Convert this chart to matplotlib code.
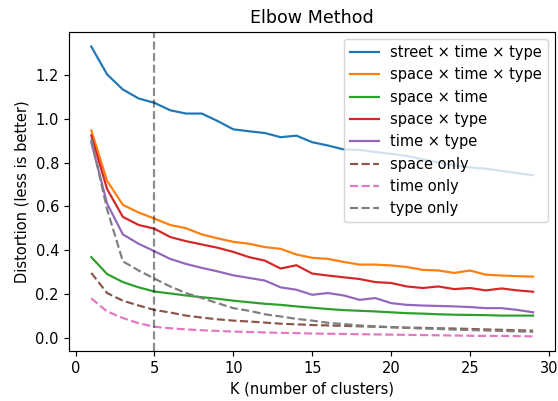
import matplotlib
matplotlib.use("Agg")
import matplotlib.pyplot as plt

K = list(range(1, 30))

street_time_type = [1.33, 1.203, 1.134, 1.093, 1.073, 1.039, 1.024, 1.024, 0.99, 0.952,
                    0.943, 0.935, 0.916, 0.923, 0.893, 0.878, 0.86, 0.858, 0.848, 0.84,
                    0.83, 0.815, 0.80, 0.787, 0.778, 0.772, 0.762, 0.752, 0.742]
space_time_type = [0.947, 0.717, 0.607, 0.572, 0.544, 0.515, 0.50, 0.472, 0.454, 0.438,
                   0.429, 0.414, 0.406, 0.38, 0.365, 0.36, 0.346, 0.334, 0.334, 0.33,
                   0.323, 0.31, 0.307, 0.296, 0.307, 0.288, 0.284, 0.281, 0.279]
space_time = [0.368, 0.291, 0.254, 0.23, 0.211, 0.202, 0.193, 0.185, 0.178, 0.169,
              0.162, 0.155, 0.15, 0.143, 0.137, 0.131, 0.126, 0.123, 0.12, 0.116,
              0.112, 0.11, 0.107, 0.105, 0.104, 0.103, 0.101, 0.101, 0.101]
space_type = [0.924, 0.679, 0.552, 0.515, 0.498, 0.46, 0.441, 0.426, 0.411, 0.392,
              0.368, 0.352, 0.316, 0.331, 0.293, 0.284, 0.276, 0.268, 0.254, 0.25,
              0.234, 0.227, 0.234, 0.222, 0.227, 0.216, 0.225, 0.216, 0.21]
time_type = [0.893, 0.613, 0.472, 0.429, 0.395, 0.36, 0.337, 0.319, 0.303, 0.285,
             0.273, 0.261, 0.23, 0.219, 0.196, 0.204, 0.193, 0.173, 0.181, 0.158,
             0.15, 0.147, 0.145, 0.143, 0.14, 0.135, 0.135, 0.127, 0.116]
space_only = [0.296, 0.204, 0.169, 0.147, 0.127, 0.115, 0.101, 0.092, 0.084, 0.078,
              0.074, 0.069, 0.064, 0.061, 0.058, 0.056, 0.054, 0.052, 0.05, 0.048,
              0.046, 0.045, 0.043, 0.042, 0.04, 0.038, 0.036, 0.034, 0.032]
time_only = [0.18, 0.12, 0.09, 0.066, 0.05, 0.043, 0.038, 0.034, 0.031, 0.028,
             0.026, 0.024, 0.022, 0.021, 0.019, 0.018, 0.017, 0.016, 0.015, 0.014,
             0.013, 0.012, 0.011, 0.01, 0.009, 0.008, 0.008, 0.007, 0.006]
type_only = [0.909, 0.587, 0.349, 0.307, 0.27, 0.234, 0.204, 0.181, 0.158, 0.135,
             0.123, 0.107, 0.097, 0.086, 0.078, 0.068, 0.062, 0.056, 0.052, 0.048,
             0.045, 0.042, 0.04, 0.037, 0.035, 0.033, 0.031, 0.029, 0.027]

solid_series = [
    ("street × time × type", street_time_type),
    ("space × time × type", space_time_type),
    ("space × time", space_time),
    ("space × type", space_type),
    ("time × type", time_type),
]
dashed_series = [
    ("space only", space_only, "C5"),
    ("time only", time_only, "C6"),
    ("type only", type_only, "C7"),
]
elbow_k = 5

DPI = 105
fig = plt.figure(figsize=(558 / DPI, 401 / DPI), dpi=DPI)
ax = fig.add_axes([0.124, 0.125, 0.871, 0.795])
for i, (name, vals) in enumerate(solid_series):
    ax.plot(K, vals, color=f"C{i}", label=name)
for name, vals, c in dashed_series:
    ax.plot(K, vals, color=c, linestyle="--", label=name)
ax.axvline(elbow_k, color="k", linestyle="--", alpha=0.45, linewidth=1.5)
ax.set_title("Elbow Method")
ax.set_xlabel("K (number of clusters)")
ax.set_ylabel("Distortion (less is better)")
ax.legend(loc="upper right")
fig.savefig("out.png", dpi=DPI)
